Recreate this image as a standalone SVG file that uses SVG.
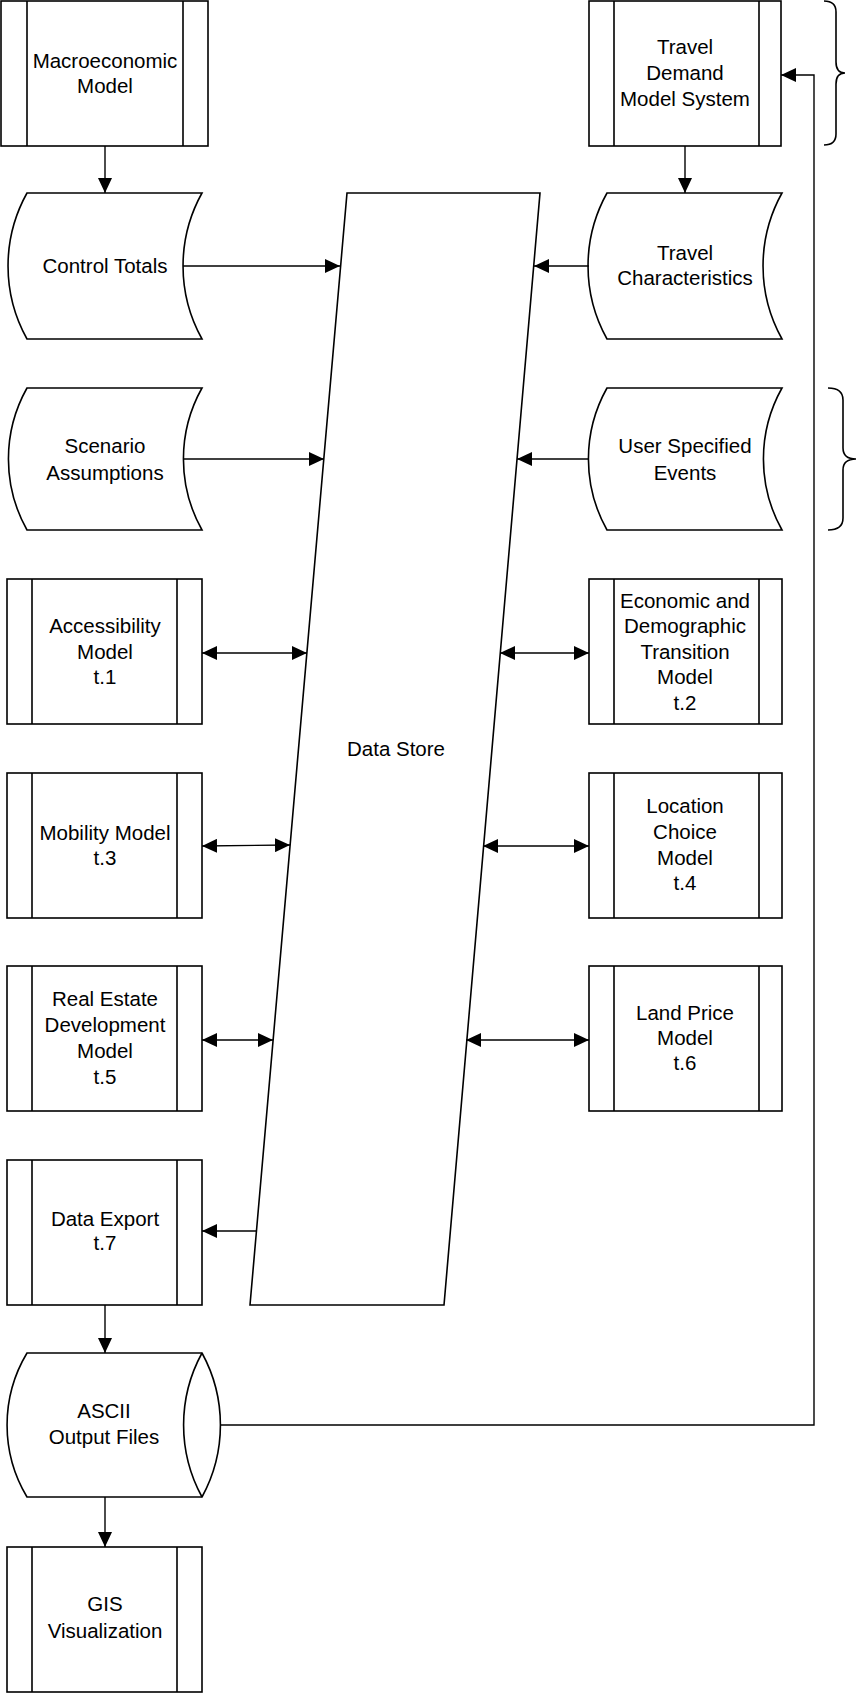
<svg xmlns="http://www.w3.org/2000/svg" width="856" height="1693" viewBox="0 0 856 1693">
<style>
.s{fill:#fff;stroke:#000;stroke-width:1.6}
.i{fill:none;stroke:#000;stroke-width:1.6}
.t{font-family:"Liberation Sans",Arial,sans-serif;font-size:20.5px;fill:#000;text-anchor:middle}
.c{fill:none;stroke:#000;stroke-width:1.4}
</style>
<defs>
<marker id="ah" markerUnits="userSpaceOnUse" markerWidth="15" markerHeight="14" refX="15" refY="7" orient="auto-start-reverse" viewBox="0 0 15 14">
<path d="M0,0 L15,7 L0,14 Z" fill="#000"/>
</marker>
</defs>
<rect width="856" height="1693" fill="#fff"/>

<g id="datastore">
<path class="s" d="M347,193 L540,193 L444,1305 L250,1305 Z"/>
<text class="t" x="396" y="756">Data Store</text>
</g>

<g id="macro">
<rect class="s" x="1" y="1" width="207" height="145"/>
<path class="i" d="M27,1 V146 M183,1 V146"/>
<text class="t" x="105" y="68">Macroeconomic</text>
<text class="t" x="105" y="93">Model</text>
</g>

<g id="travel-demand">
<rect class="s" x="589" y="1" width="192" height="145"/>
<path class="i" d="M614,1 V146 M759,1 V146"/>
<text class="t" x="685" y="54">Travel</text>
<text class="t" x="685" y="80">Demand</text>
<text class="t" x="685" y="106">Model System</text>
</g>

<g id="control-totals">
<path class="s" d="M27,193 L202,193 A150,150 0 0,0 202,339 L27,339 A150,150 0 0,1 27,193 Z"/>
<text class="t" x="105" y="273">Control Totals</text>
</g>

<g id="travel-characteristics">
<path class="s" d="M607,193 L782,193 A150,150 0 0,0 782,339 L607,339 A150,150 0 0,1 607,193 Z"/>
<text class="t" x="685" y="260">Travel</text>
<text class="t" x="685" y="285">Characteristics</text>
</g>

<g id="scenario">
<path class="s" d="M27,388 L202,388 A145,145 0 0,0 202,530 L27,530 A145,145 0 0,1 27,388 Z"/>
<text class="t" x="105" y="453">Scenario</text>
<text class="t" x="105" y="480">Assumptions</text>
</g>

<g id="user-events">
<path class="s" d="M607,388 L782,388 A145,145 0 0,0 782,530 L607,530 A145,145 0 0,1 607,388 Z"/>
<text class="t" x="685" y="453">User Specified</text>
<text class="t" x="685" y="480">Events</text>
</g>

<g id="accessibility">
<rect class="s" x="7" y="579" width="195" height="145"/>
<path class="i" d="M32,579 V724 M177,579 V724"/>
<text class="t" x="105" y="633">Accessibility</text>
<text class="t" x="105" y="659">Model</text>
<text class="t" x="105" y="684">t.1</text>
</g>

<g id="econ-demo">
<rect class="s" x="589" y="579" width="193" height="145"/>
<path class="i" d="M614,579 V724 M759,579 V724"/>
<text class="t" x="685" y="608">Economic and</text>
<text class="t" x="685" y="633">Demographic</text>
<text class="t" x="685" y="659">Transition</text>
<text class="t" x="685" y="684">Model</text>
<text class="t" x="685" y="710">t.2</text>
</g>

<g id="mobility">
<rect class="s" x="7" y="773" width="195" height="145"/>
<path class="i" d="M32,773 V918 M177,773 V918"/>
<text class="t" x="105" y="840">Mobility Model</text>
<text class="t" x="105" y="865">t.3</text>
</g>

<g id="location">
<rect class="s" x="589" y="773" width="193" height="145"/>
<path class="i" d="M614,773 V918 M759,773 V918"/>
<text class="t" x="685" y="813">Location</text>
<text class="t" x="685" y="839">Choice</text>
<text class="t" x="685" y="865">Model</text>
<text class="t" x="685" y="890">t.4</text>
</g>

<g id="real-estate">
<rect class="s" x="7" y="966" width="195" height="145"/>
<path class="i" d="M32,966 V1111 M177,966 V1111"/>
<text class="t" x="105" y="1006">Real Estate</text>
<text class="t" x="105" y="1032">Development</text>
<text class="t" x="105" y="1058">Model</text>
<text class="t" x="105" y="1084">t.5</text>
</g>

<g id="land-price">
<rect class="s" x="589" y="966" width="193" height="145"/>
<path class="i" d="M614,966 V1111 M759,966 V1111"/>
<text class="t" x="685" y="1020">Land Price</text>
<text class="t" x="685" y="1045">Model</text>
<text class="t" x="685" y="1070">t.6</text>
</g>

<g id="data-export">
<rect class="s" x="7" y="1160" width="195" height="145"/>
<path class="i" d="M32,1160 V1305 M177,1160 V1305"/>
<text class="t" x="105" y="1226">Data Export</text>
<text class="t" x="105" y="1250">t.7</text>
</g>

<g id="ascii">
<path class="s" d="M27,1353 L202,1353 A150,150 0 0,1 202,1497 L27,1497 A140,140 0 0,1 27,1353 Z"/>
<path class="i" d="M202,1353 A150,150 0 0,0 202,1497"/>
<text class="t" x="104" y="1418">ASCII</text>
<text class="t" x="104" y="1444">Output Files</text>
</g>

<g id="gis">
<rect class="s" x="7" y="1547" width="195" height="145"/>
<path class="i" d="M32,1547 V1692 M177,1547 V1692"/>
<text class="t" x="105" y="1611">GIS</text>
<text class="t" x="105" y="1638">Visualization</text>
</g>

<g id="braces">
<path class="i" d="M824,1 Q836,1 836,12 L836,62 Q836,73 845,73 Q836,73 836,84 L836,134 Q836,145 824,145"/>
<path class="i" d="M828,388 Q843,388 843,400 L843,448 Q843,459 856,459 Q843,459 843,470 L843,518 Q843,530 828,530"/>
</g>

<g id="connectors">
<path class="c" d="M105,146 V193" marker-end="url(#ah)"/>
<path class="c" d="M685,146 V193" marker-end="url(#ah)"/>
<path class="c" d="M183,266 H340" marker-end="url(#ah)"/>
<path class="c" d="M589,266 H534" marker-end="url(#ah)"/>
<path class="c" d="M183,459 H324" marker-end="url(#ah)"/>
<path class="c" d="M589,459 H517" marker-end="url(#ah)"/>
<path class="c" d="M202,653 H307" marker-start="url(#ah)" marker-end="url(#ah)"/>
<path class="c" d="M500,653 H589" marker-start="url(#ah)" marker-end="url(#ah)"/>
<path class="c" d="M202,846 L290,845" marker-start="url(#ah)" marker-end="url(#ah)"/>
<path class="c" d="M483,846 H589" marker-start="url(#ah)" marker-end="url(#ah)"/>
<path class="c" d="M202,1040 H273" marker-start="url(#ah)" marker-end="url(#ah)"/>
<path class="c" d="M466,1040 H589" marker-start="url(#ah)" marker-end="url(#ah)"/>
<path class="c" d="M257,1231 H202" marker-end="url(#ah)"/>
<path class="c" d="M105,1305 V1353" marker-end="url(#ah)"/>
<path class="c" d="M105,1497 V1547" marker-end="url(#ah)"/>
<path class="c" d="M220,1425 H814 V75 H781" marker-end="url(#ah)"/>
</g>
</svg>
